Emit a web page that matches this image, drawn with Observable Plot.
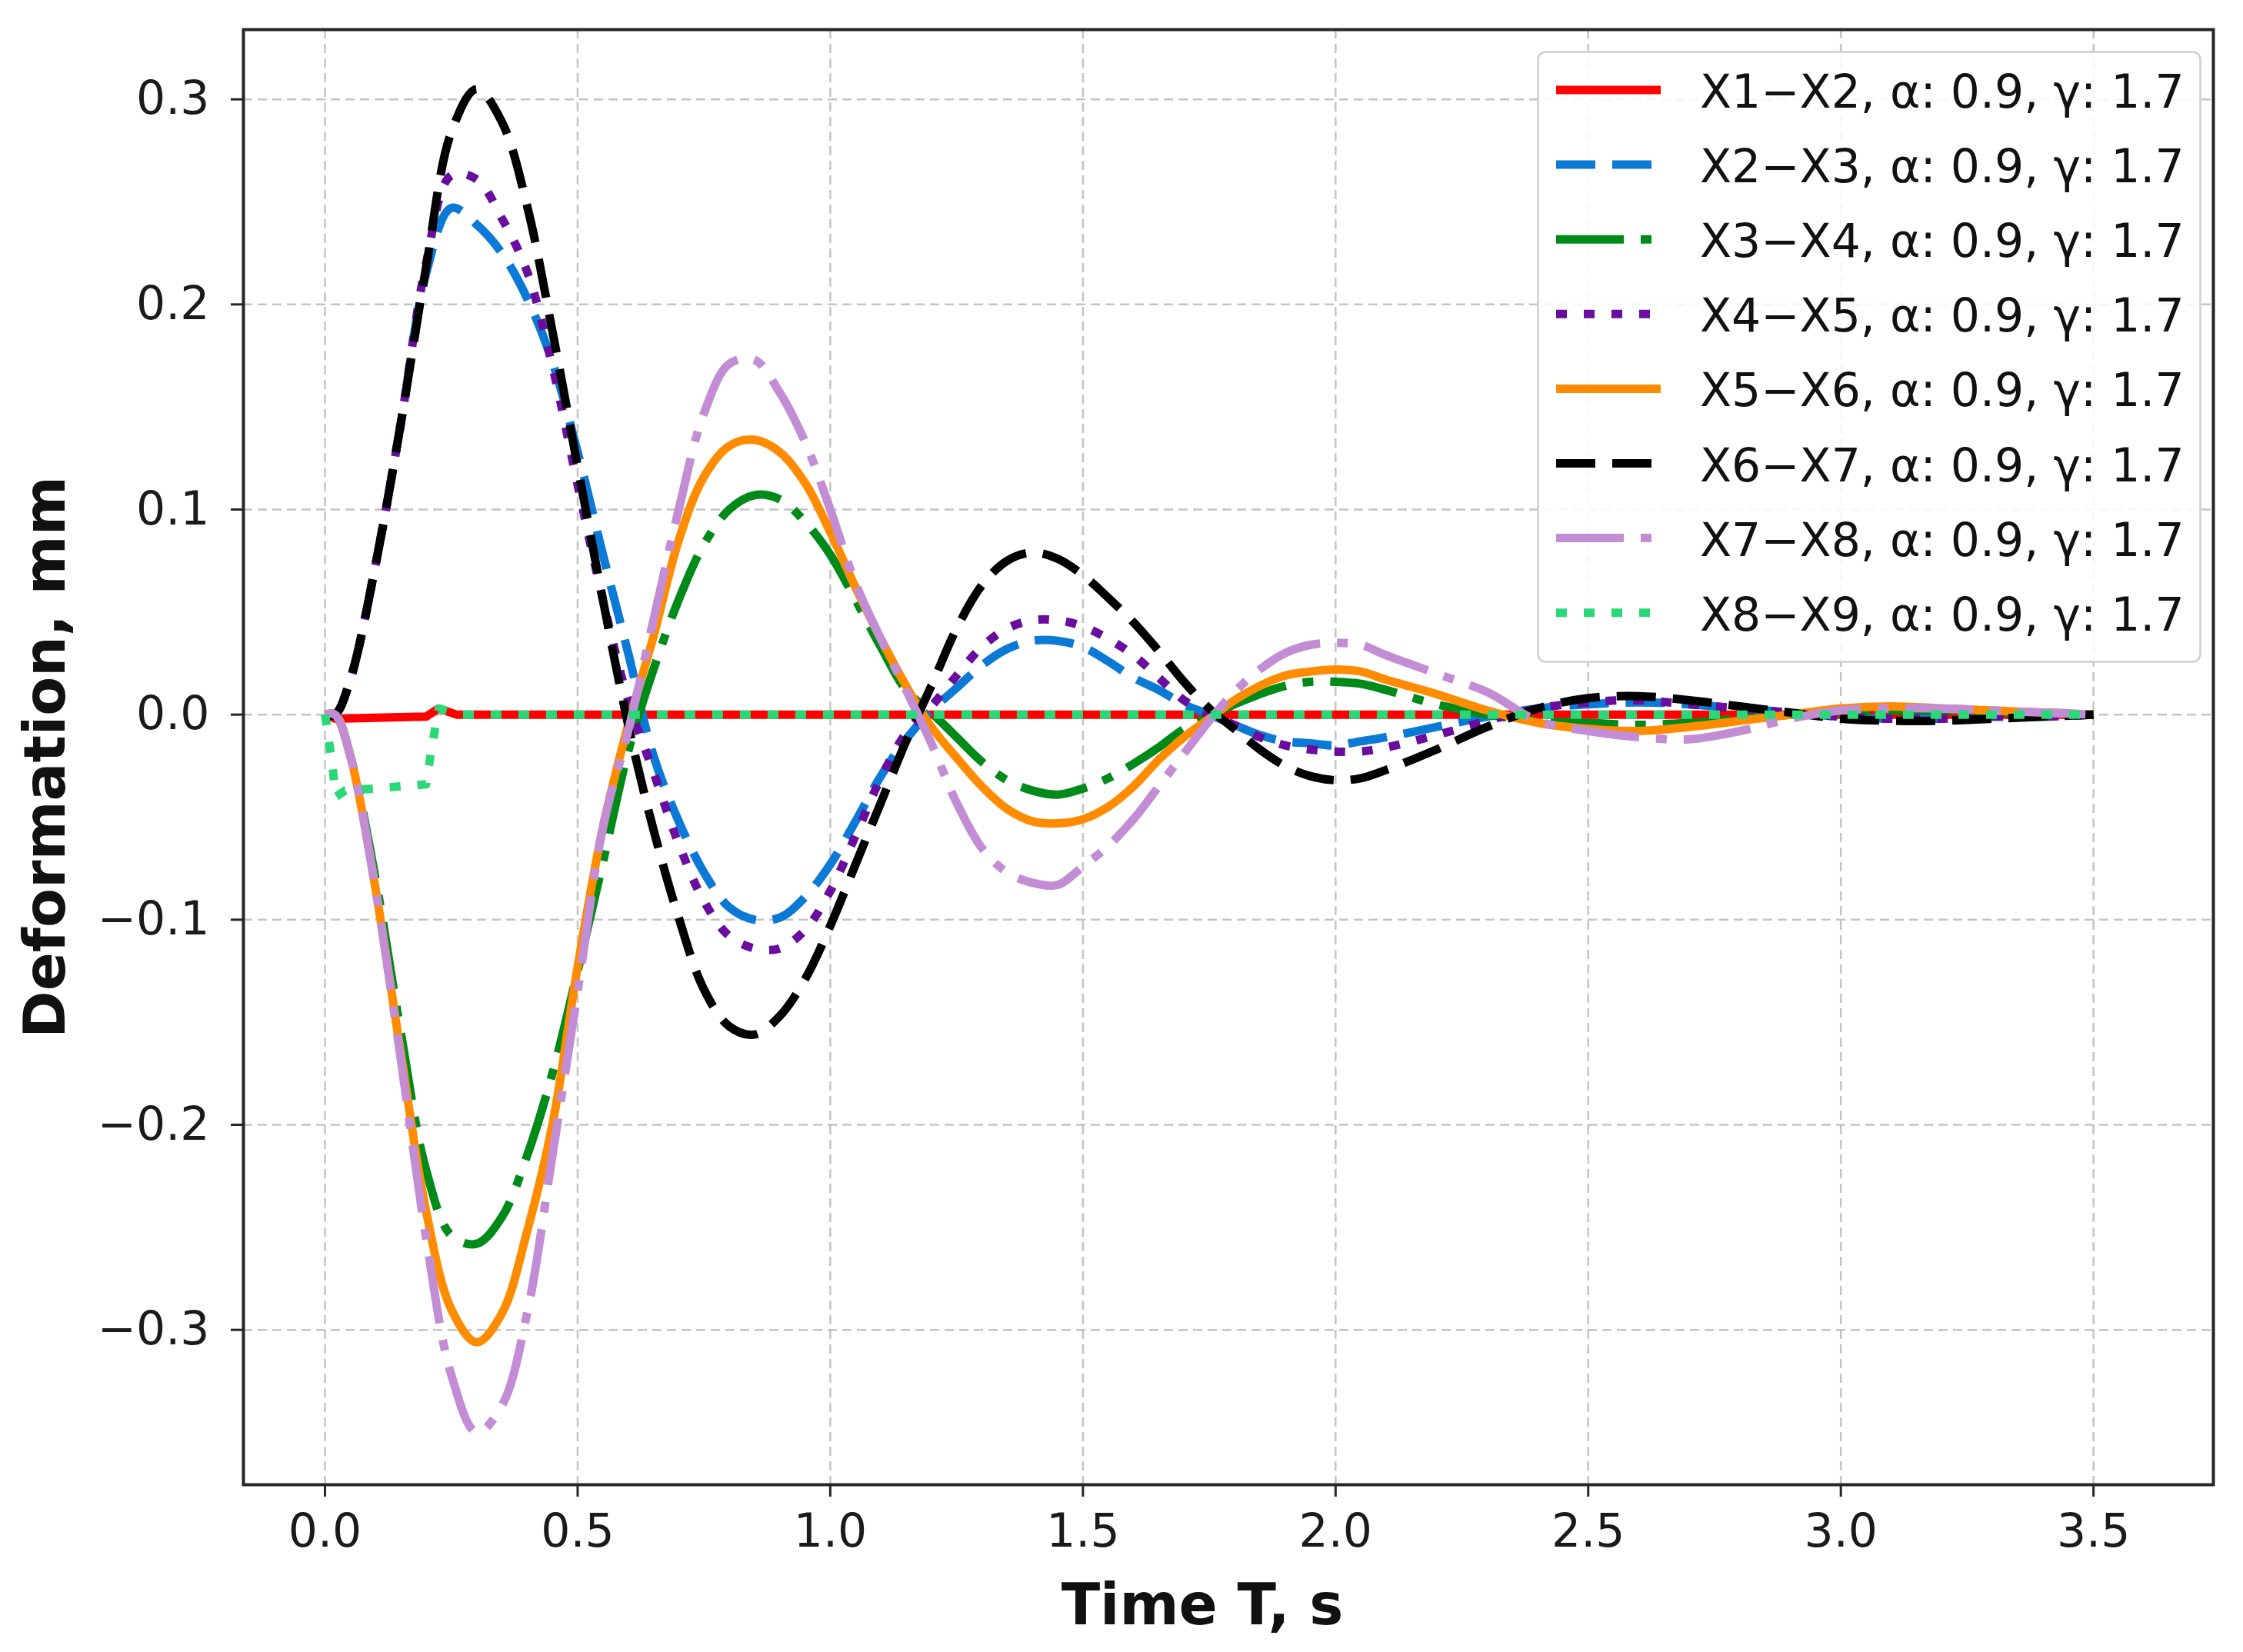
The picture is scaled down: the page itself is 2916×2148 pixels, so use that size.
<!DOCTYPE html>
<html><head><meta charset="utf-8">
<script src="https://cdn.jsdelivr.net/npm/d3@7"></script>
<script src="https://cdn.jsdelivr.net/npm/@observablehq/plot@0.6"></script>
<style>
html,body{margin:0;padding:0;background:#fff;}
#wrap{position:relative;width:2916px;height:2148px;}
#legend{position:absolute;left:1998px;top:66px;}
</style></head><body><div id="wrap"></div>
<script>
// ---- data ----
const xTicks = [0, 0.5, 1.0, 1.5, 2.0, 2.5, 3.0, 3.5];
const yTicks = [-0.3, -0.2, -0.1, 0.0, 0.1, 0.2, 0.3];

const labels = [
  "X1\u2212X2, \u03b1: 0.9, \u03b3: 1.7",
  "X2\u2212X3, \u03b1: 0.9, \u03b3: 1.7",
  "X3\u2212X4, \u03b1: 0.9, \u03b3: 1.7",
  "X4\u2212X5, \u03b1: 0.9, \u03b3: 1.7",
  "X5\u2212X6, \u03b1: 0.9, \u03b3: 1.7",
  "X6\u2212X7, \u03b1: 0.9, \u03b3: 1.7",
  "X7\u2212X8, \u03b1: 0.9, \u03b3: 1.7",
  "X8\u2212X9, \u03b1: 0.9, \u03b3: 1.7"
];

const time = [0, 0.02, 0.05, 0.1, 0.15, 0.2, 0.25, 0.3, 0.35, 0.4, 0.45, 0.5, 0.55, 0.6, 0.65, 0.7, 0.75, 0.8, 0.85, 0.9, 0.95, 1.0, 1.05, 1.1, 1.15, 1.2, 1.25, 1.3, 1.35, 1.4, 1.45, 1.5, 1.55, 1.6, 1.65, 1.7, 1.75, 1.8, 1.85, 1.9, 1.95, 2.0, 2.05, 2.1, 2.2, 2.3, 2.4, 2.5, 2.6, 2.7, 2.8, 2.9, 3.0, 3.1, 3.2, 3.3, 3.4, 3.5];

const x1x2Time = [0, 0.02, 0.1, 0.2, 0.225, 0.26, 3.5];
const x1x2 = [0, -0.002, -0.0015, -0.001, 0.003, 0, 0];

const x2x3 = [0, 0, 0.017, 0.073, 0.142, 0.215, 0.247, 0.239, 0.225, 0.203, 0.172, 0.128, 0.078, 0.030, -0.020, -0.052, -0.077, -0.094, -0.100, -0.099, -0.089, -0.073, -0.052, -0.030, -0.012, 0.002, 0.013, 0.024, 0.032, 0.036, 0.036, 0.033, 0.026, 0.018, 0.012, 0.005, 0.000, -0.005, -0.010, -0.013, -0.014, -0.015, -0.013, -0.011, -0.006, -0.001, 0.003, 0.005, 0.006, 0.005, 0.003, 0.001, -0.001, -0.002, -0.002, -0.001, -0.001, 0];

const x3x4 = [0, 0, -0.020, -0.080, -0.155, -0.222, -0.254, -0.258, -0.245, -0.215, -0.175, -0.125, -0.072, -0.018, 0.022, 0.056, 0.083, 0.100, 0.107, 0.105, 0.094, 0.078, 0.056, 0.033, 0.012, 0.001, -0.011, -0.023, -0.032, -0.037, -0.039, -0.036, -0.031, -0.024, -0.016, -0.007, -0.001, 0.005, 0.010, 0.014, 0.016, 0.016, 0.015, 0.012, 0.005, 0.000, -0.003, -0.004, -0.005, -0.004, -0.002, 0.000, 0.001, 0.002, 0.002, 0.001, 0.001, 0];

const x4x5 = [0, 0, 0.017, 0.073, 0.142, 0.220, 0.263, 0.261, 0.242, 0.216, 0.170, 0.112, 0.056, 0.007, -0.028, -0.063, -0.091, -0.108, -0.114, -0.114, -0.105, -0.086, -0.059, -0.031, -0.009, 0.004, 0.019, 0.033, 0.042, 0.046, 0.046, 0.043, 0.037, 0.029, 0.018, 0.007, 0.000, -0.005, -0.011, -0.015, -0.017, -0.018, -0.018, -0.016, -0.010, -0.003, 0.003, 0.006, 0.007, 0.005, 0.003, 0.001, -0.001, -0.002, -0.002, -0.001, -0.001, 0];

const x5x6 = [0, 0, -0.020, -0.085, -0.165, -0.242, -0.290, -0.306, -0.292, -0.252, -0.200, -0.123, -0.055, -0.005, 0.038, 0.085, 0.116, 0.131, 0.134, 0.128, 0.113, 0.089, 0.062, 0.037, 0.014, -0.006, -0.021, -0.035, -0.046, -0.052, -0.053, -0.051, -0.045, -0.035, -0.022, -0.011, -0.002, 0.007, 0.014, 0.019, 0.021, 0.022, 0.021, 0.017, 0.010, 0.002, -0.004, -0.007, -0.008, -0.006, -0.003, 0.000, 0.003, 0.004, 0.003, 0.002, 0.001, 0];

const x6x7 = [0, 0, 0.017, 0.073, 0.142, 0.218, 0.284, 0.305, 0.289, 0.248, 0.187, 0.121, 0.056, -0.005, -0.056, -0.099, -0.134, -0.152, -0.156, -0.147, -0.129, -0.103, -0.073, -0.043, -0.013, 0.014, 0.042, 0.063, 0.075, 0.079, 0.076, 0.068, 0.057, 0.045, 0.031, 0.016, 0.003, -0.007, -0.017, -0.025, -0.030, -0.032, -0.031, -0.027, -0.017, -0.006, 0.003, 0.008, 0.009, 0.007, 0.004, 0.001, -0.002, -0.003, -0.003, -0.002, -0.001, 0];

const x7x8 = [0, 0, -0.020, -0.085, -0.168, -0.255, -0.322, -0.350, -0.337, -0.292, -0.215, -0.135, -0.055, -0.008, 0.046, 0.100, 0.147, 0.171, 0.173, 0.157, 0.133, 0.100, 0.064, 0.037, 0.012, -0.014, -0.043, -0.065, -0.077, -0.082, -0.083, -0.074, -0.064, -0.051, -0.035, -0.019, -0.003, 0.011, 0.022, 0.030, 0.034, 0.035, 0.034, 0.029, 0.020, 0.011, -0.003, -0.008, -0.011, -0.012, -0.008, -0.002, 0.002, 0.003, 0.003, 0.002, 0.001, 0];

const x8x9Time = [0, 0.012, 0.022, 0.04, 0.1, 0.2, 0.212, 0.225, 0.27, 3.5];
const x8x9 = [0, -0.02, -0.04, -0.037, -0.036, -0.034, -0.015, 0.003, 0, 0];

const colors = ["#ff0000", "#0a7ad6", "#008a1a", "#6a0d9e", "#ff8c00", "#000000", "#c38dd6", "#2bd877"];
const dashes = [null, "51,22", "88,22,14,22", "14,22", null, "51,22", "88,22,14,22", "14,22"];

// ---- build ----
const seriesTimes = [x1x2Time, time, time, time, time, time, time, x8x9Time];
const seriesValues = [x1x2, x2x3, x3x4, x4x5, x5x6, x6x7, x7x8, x8x9];
const curves = ["linear", "catmull-rom", "catmull-rom", "catmull-rom", "catmull-rom", "catmull-rom", "catmull-rom", "linear"];

const lineMarks = seriesValues.map((vals, k) =>
  Plot.line(seriesTimes[k].map((t, i) => ({t, v: vals[i]})), {
    x: "t", y: "v",
    stroke: colors[k],
    strokeWidth: 11,
    strokeDasharray: dashes[k] || undefined,
    strokeLinecap: "butt",
    strokeLinejoin: "round",
    curve: curves[k]
  })
);

const fmt = d3.format(".1f");

const chart = Plot.plot({
  width: 2916,
  height: 2148,
  marginLeft: 316,
  marginRight: 39,
  marginTop: 38,
  marginBottom: 218,
  style: {fontFamily: "'DejaVu Sans', sans-serif", fontSize: "60px", background: "#ffffff", color: "#1a1a1a"},
  x: {domain: [-0.1614, 3.7373]},
  y: {domain: [-0.3755, 0.334]},
  marks: [
    Plot.gridX(xTicks, {stroke: "#b5b5b5", strokeOpacity: 0.8, strokeWidth: 2.5, strokeDasharray: "12,7"}),
    Plot.gridY(yTicks, {stroke: "#b5b5b5", strokeOpacity: 0.8, strokeWidth: 2.5, strokeDasharray: "12,7"}),
    ...lineMarks,
    Plot.frame({stroke: "#262626", strokeWidth: 4}),
    Plot.axisX(xTicks, {tickSize: 16, tickPadding: 22, tickFormat: fmt, strokeWidth: 3, stroke: "#262626", fill: "#1a1a1a", label: null, fontSize: 60}),
    Plot.axisY(yTicks, {tickSize: 16, tickPadding: 28, tickFormat: fmt, strokeWidth: 3, stroke: "#262626", fill: "#1a1a1a", label: null, fontSize: 60}),
    Plot.text(["Time T, s"], {frameAnchor: "bottom", dy: 158, dx: -34, textAnchor: "middle", lineAnchor: "middle", fontSize: 74, fontWeight: "bold", fill: "#111"}),
    Plot.text(["Deformation, mm"], {frameAnchor: "left", dx: -256, rotate: -90, textAnchor: "middle", lineAnchor: "middle", fontSize: 74, fontWeight: "bold", fill: "#111"})
  ]
});

const wrap = document.getElementById("wrap");
wrap.appendChild(chart);

// ---- legend (inside the axes, upper right) ----
const lgW = 864, lgH = 796;
const lg = d3.select(wrap).append("svg")
  .attr("id", "legend")
  .attr("width", lgW)
  .attr("height", lgH)
  .style("font-family", "'DejaVu Sans', sans-serif");
lg.append("rect")
  .attr("x", 1.5).attr("y", 1.5)
  .attr("width", lgW - 3).attr("height", lgH - 3)
  .attr("rx", 10)
  .attr("fill", "#ffffff").attr("fill-opacity", 0.85)
  .attr("stroke", "#cfcfcf").attr("stroke-width", 2.5);
labels.forEach((lab, k) => {
  const cy = 51 + k * 97.1;
  lg.append("line")
    .attr("x1", 25).attr("x2", 161)
    .attr("y1", cy).attr("y2", cy)
    .attr("stroke", colors[k])
    .attr("stroke-width", 11)
    .attr("stroke-dasharray", dashes[k] || null)
    .attr("stroke-linecap", "butt");
  lg.append("text")
    .attr("x", 212).attr("y", cy + 23)
    .attr("font-size", 60)
    .attr("fill", "#111")
    .text(lab);
});
</script>
</body></html>
